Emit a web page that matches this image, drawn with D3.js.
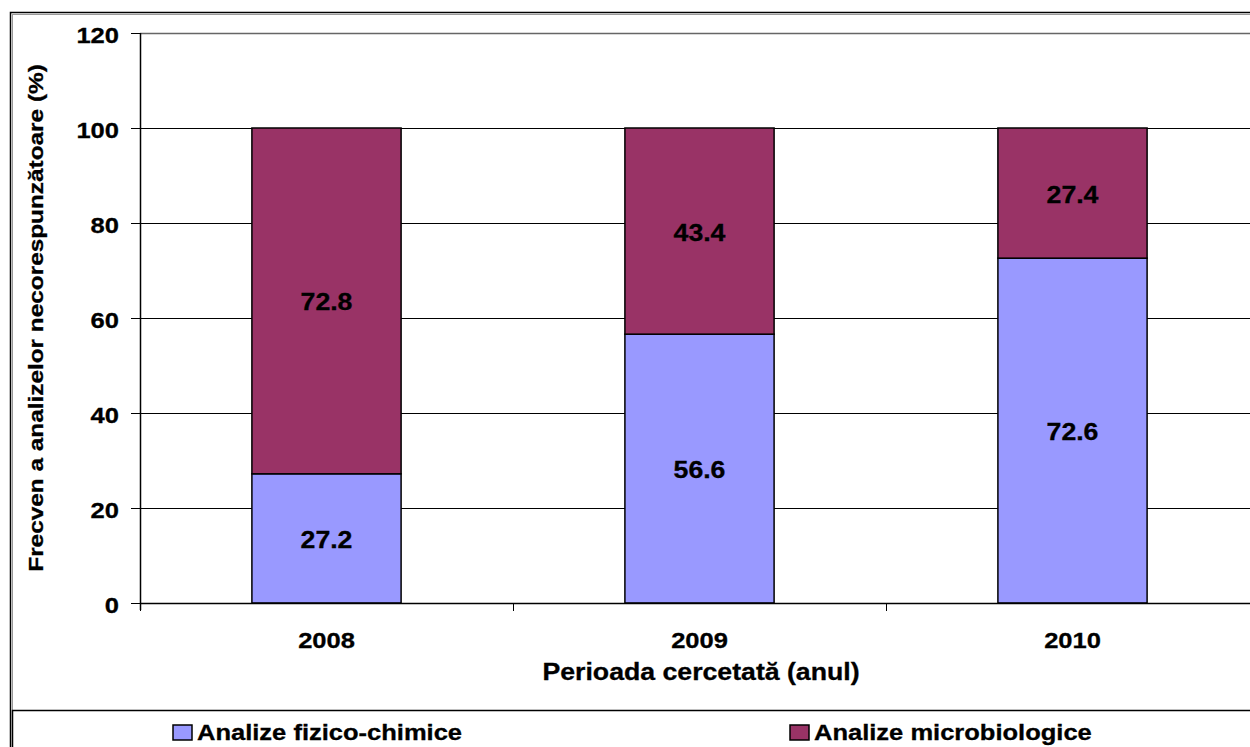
<!DOCTYPE html>
<html>
<head>
<meta charset="utf-8">
<script src="https://cdn.jsdelivr.net/npm/d3@7"></script>
<style>
  html, body { margin: 0; padding: 0; background: #fff; }
  svg { display: block; }
  text { font-family: "Liberation Sans", Arial, sans-serif; font-weight: bold; fill: #000; }
</style>
</head>
<body>
<svg id="chart" width="1250" height="747"></svg>
<script>
// Years studied
const years = ["2008", "2009", "2010"];
// Share of non-compliant physico-chemical analyses (%)
const fizicoChimice = [27.2, 56.6, 72.6];
// Share of non-compliant microbiological analyses (%)
const microbiologice = [72.8, 43.4, 27.4];
// Y axis ticks
const yTicks = [0, 20, 40, 60, 80, 100, 120];
const seriesNames = ["Analize fizico-chimice", "Analize microbiologice"];
const colors = ["#9999FF", "#993366"];

const svg = d3.select("#chart");
const W = 1250, H = 747;
const plot = { left: 140, right: 1259, top: 33, bottom: 603 };
const SX = 1.16; // horizontal stretch of the lettering

const x = d3.scaleBand().domain(years).range([plot.left, plot.right]).padding(0);
const y = d3.scaleLinear().domain([0, 120]).range([plot.bottom, plot.top]);

// stretched text helper
function label(parent, tx, ty, str, size, anchor, rotate) {
  const g = parent.append("g")
    .attr("transform", `translate(${tx},${ty}) rotate(${rotate || 0}) scale(${SX},1)`);
  g.append("text")
    .attr("text-anchor", anchor || "middle")
    .attr("font-size", size)
    .attr("stroke", "#000")
    .attr("stroke-width", 0.3)
    .text(str);
  return g;
}

// outer chart frame (double line)
svg.append("rect").attr("x", 10.5).attr("y", 12.5).attr("width", W + 20).attr("height", H + 20)
  .attr("fill", "none").attr("stroke", "#000").attr("stroke-width", 1.5);
svg.append("rect").attr("x", 12.5).attr("y", 14.5).attr("width", W + 20).attr("height", H + 20)
  .attr("fill", "none").attr("stroke", "#999").attr("stroke-width", 1);

// gridlines
svg.append("g").selectAll("line")
  .data(yTicks.filter(d => d > 0))
  .join("line")
  .attr("x1", plot.left).attr("x2", W)
  .attr("y1", d => Math.round(y(d)) + 0.5).attr("y2", d => Math.round(y(d)) + 0.5)
  .attr("stroke", d => d === 120 ? "#666" : "#000")
  .attr("stroke-width", d => d === 120 ? 1.5 : 1);

// stacked bars
const stacked = d3.stack().keys([0, 1])(years.map((yr, i) => ({ 0: fizicoChimice[i], 1: microbiologice[i], year: yr })));
const barW = x.bandwidth() * 0.4;
stacked.forEach((layer, si) => {
  svg.append("g").selectAll("rect")
    .data(layer)
    .join("rect")
    .attr("x", d => x(d.data.year) + (x.bandwidth() - barW) / 2)
    .attr("width", barW)
    .attr("y", d => y(d[1]))
    .attr("height", d => y(d[0]) - y(d[1]))
    .attr("fill", colors[si])
    .attr("stroke", "#000")
    .attr("stroke-width", 1.5);
  layer.forEach(d => {
    const v = d[1] - d[0];
    label(svg, x(d.data.year) + x.bandwidth() / 2, (y(d[0]) + y(d[1])) / 2 + 9.5, v.toFixed(1), 23);
  });
});

// y axis
const yAxisG = svg.append("g");
yAxisG.append("line").attr("x1", plot.left + 0.5).attr("x2", plot.left + 0.5)
  .attr("y1", plot.top).attr("y2", plot.bottom + 7).attr("stroke", "#000").attr("stroke-width", 1.5);
yTicks.forEach(t => {
  const ty = Math.round(y(t)) + 0.5;
  yAxisG.append("line").attr("x1", plot.left - 9).attr("x2", plot.left).attr("y1", ty).attr("y2", ty)
    .attr("stroke", "#000").attr("stroke-width", 1);
  label(yAxisG, 119, ty + 9.5, String(t), 22, "end");
});

// x axis
const xAxisG = svg.append("g");
xAxisG.append("line").attr("x1", plot.left).attr("x2", W)
  .attr("y1", plot.bottom + 0.5).attr("y2", plot.bottom + 0.5).attr("stroke", "#000").attr("stroke-width", 1.5);
years.forEach(yr => {
  const tx = Math.round(x(yr)) + 0.5;
  xAxisG.append("line").attr("x1", tx).attr("x2", tx).attr("y1", plot.bottom).attr("y2", plot.bottom + 8)
    .attr("stroke", "#000").attr("stroke-width", 1);
  label(xAxisG, x(yr) + x.bandwidth() / 2, 648, yr, 22);
});

// axis titles
label(svg, 701, 680, "Perioada cercetată (anul)", 23);
label(svg, 43, 318, "Frecven a analizelor necorespunzătoare (%)", 21, "middle", -90);

// legend box
svg.append("rect").attr("x", 12.5).attr("y", 710.5).attr("width", W + 20).attr("height", 60)
  .attr("fill", "#fff").attr("stroke", "#000").attr("stroke-width", 1.5);
const legendX = [173, 790];
seriesNames.forEach((name, i) => {
  svg.append("rect").attr("x", legendX[i]).attr("y", 725).attr("width", 19).attr("height", 15)
    .attr("fill", colors[i]).attr("stroke", "#000").attr("stroke-width", 1.5);
  label(svg, legendX[i] + 24, 740, name, 22, "start");
});
</script>
</body>
</html>
